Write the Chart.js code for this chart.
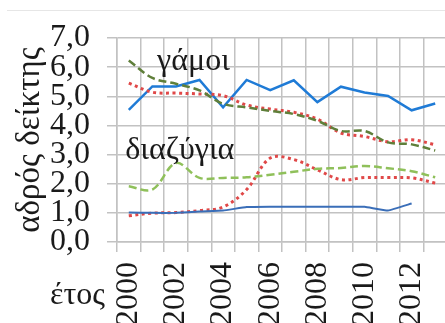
<!DOCTYPE html>
<html>
<head>
<meta charset="utf-8">
<style>
  html, body { margin: 0; padding: 0; background: #fff; overflow: hidden; width: 445px; height: 323px; }
  #topline { position: absolute; top: 10px; left: 7px; width: 438px; height: 1px; background: #e6e6e6; }
  #chart { position: absolute; top: 0; left: 0; }
</style>
<script src="https://cdn.jsdelivr.net/npm/chart.js@4"></script>
</head>
<body>
<div id="topline"></div>
<canvas id="chart" width="460" height="323"></canvas>
<script>
// ---------- Data ----------
var years = ['2000', '2001', '2002', '2003', '2004', '2005', '2006',
             '2007', '2008', '2009', '2010', '2011', '2012', '2013'];
var yTicks = [0, 1, 2, 3, 4, 5, 6, 7];

// γάμοι (marriages)
var marriagesBlue  = [4.53, 5.34, 5.34, 5.56, 4.62, 5.56, 5.21, 5.55, 4.80, 5.33, 5.13, 5.01, 4.52, 4.75];
var marriagesRed   = [5.45, 5.14, 5.11, 5.08, 5.02, 4.70, 4.56, 4.45, 4.22, 3.74, 3.62, 3.44, 3.51, 3.34];
var marriagesOlive = [6.23, 5.63, 5.43, 5.20, 4.74, 4.62, 4.50, 4.39, 4.16, 3.81, 3.81, 3.42, 3.35, 3.14];

// διαζύγια (divorces)
var divorcesBlue   = [1.01, 1.00, 1.00, 1.05, 1.08, 1.20, 1.21, 1.21, 1.21, 1.21, 1.21, 1.08, 1.32, null];
var divorcesRed    = [0.90, 0.99, 1.01, 1.08, 1.20, 1.80, 2.88, 2.83, 2.48, 2.14, 2.21, 2.21, 2.20, 2.02];
var divorcesGreen  = [1.91, 1.80, 2.71, 2.20, 2.20, 2.22, 2.31, 2.41, 2.51, 2.54, 2.61, 2.53, 2.43, 2.22];

var serif = '"Liberation Serif", serif';
var gridColor = '#c2c2c2';
var textColor = '#1a1a1a';

// Text labels inside the plot and the "έτος" caption
var labelsPlugin = {
    id: 'labels',
    afterDraw: function (chart) {
        var ctx = chart.ctx;
        var x = chart.scales.x, y = chart.scales.y;
        ctx.save();
        ctx.fillStyle = textColor;
        ctx.font = '32px ' + serif;
        ctx.textAlign = 'left';
        ctx.textBaseline = 'alphabetic';
        ctx.fillText('γάμοι', x.getPixelForValue(1.2), y.getPixelForValue(5.9));
        ctx.fillText('διαζύγια', x.getPixelForValue(-0.15), y.getPixelForValue(2.84));
        ctx.fillText('έτος', 50, 304);
        ctx.restore();
    }
};

function line(data, color, width, dash, tension) {
    return {
        data: data,
        borderColor: color,
        borderWidth: width,
        borderDash: dash,
        tension: tension,
        pointRadius: 0,
        fill: false
    };
}

new Chart(document.getElementById('chart').getContext('2d'), {
    type: 'line',
    data: {
        labels: years,
        datasets: [
            line(divorcesBlue, '#3a6eb8', 2, [], 0.1),
            line(divorcesGreen, '#8fc05a', 2.5, [8, 4], 0.35),
            line(divorcesRed, '#e04848', 3, [3, 3.5], 0.35),
            line(marriagesOlive, '#5f7f3a', 2.5, [8, 4], 0.35),
            line(marriagesRed, '#e04848', 3, [3, 3.5], 0.35),
            line(marriagesBlue, '#1f7bd6', 2.5, [], 0)
        ]
    },
    options: {
        responsive: false,
        devicePixelRatio: 1,
        animation: false,
        layout: { padding: { left: 0, right: 13, top: 38, bottom: 0 } },
        plugins: { legend: { display: false }, tooltip: { enabled: false }, title: { display: false } },
        scales: {
            x: {
                offset: true,
                grid: { color: gridColor, lineWidth: 1.5, offset: true, tickLength: 10 },
                border: { color: gridColor, width: 1.5 },
                ticks: {
                    autoSkip: false,
                    minRotation: 90,
                    maxRotation: 90,
                    padding: 10,
                    color: textColor,
                    font: { family: serif, size: 32 },
                    callback: function (v, i) { return i % 2 === 0 ? years[i] : ''; }
                },
                afterFit: function (s) { s.height = 81; s.paddingLeft = 0; s.paddingRight = 0; }
            },
            y: {
                min: 0,
                max: 7,
                afterBuildTicks: function (s) { s.ticks = yTicks.map(function (v) { return { value: v }; }); },
                grid: { color: gridColor, lineWidth: 1.5, tickLength: 10 },
                border: { color: gridColor, width: 1.5 },
                ticks: {
                    autoSkip: false,
                    padding: 17,
                    color: textColor,
                    font: { family: serif, size: 32 },
                    callback: function (v) { return v.toFixed(1).replace('.', ','); }
                },
                title: {
                    display: true,
                    text: 'αδρός δείκτης',
                    color: textColor,
                    font: { family: serif, size: 33 },
                    padding: { top: 11, bottom: 0 }
                },
                afterFit: function (s) { s.width = 117; }
            }
        }
    },
    plugins: [labelsPlugin]
});
</script>
</body>
</html>
